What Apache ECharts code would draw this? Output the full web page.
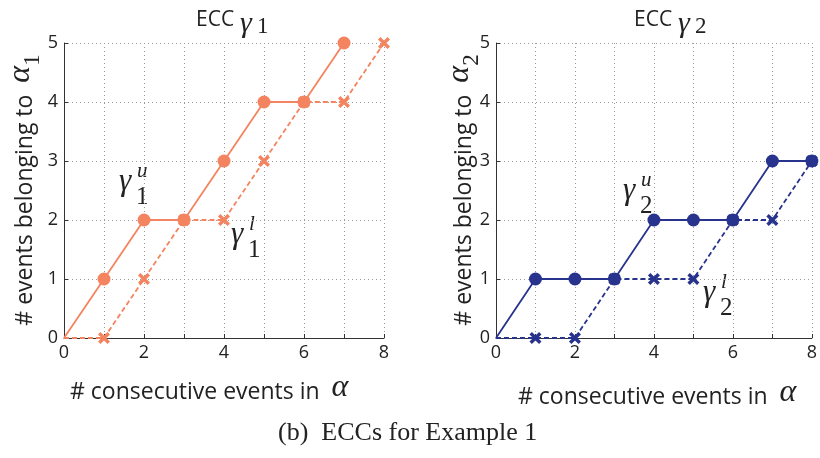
<!DOCTYPE html>
<html>
<head>
<meta charset="utf-8">
<script src="https://cdn.jsdelivr.net/npm/echarts@6/dist/echarts.min.js"></script>
<style>
  html, body { margin: 0; padding: 0; background: #fff; }
  #chart { width: 820px; height: 458px; }
</style>
</head>
<body>
<div id="chart"></div>
<script>
// Number of consecutive events (x axis, both panels)
const xValues = [0, 1, 2, 3, 4, 5, 6, 7, 8];
const yTicks = [0, 1, 2, 3, 4, 5];

// ECC gamma_1: upper and lower curves
const gamma1Upper = [0, 1, 2, 2, 3, 4, 4, 5];
const gamma1Lower = [0, 0, 1, 2, 2, 3, 4, 4, 5];

// ECC gamma_2: upper and lower curves
const gamma2Upper = [0, 1, 1, 1, 2, 2, 2, 3, 3];
const gamma2Lower = [0, 0, 0, 1, 1, 1, 2, 2, 3];

const ORANGE = '#F4845F';
const BLUE = '#27338C';
const SANS = 'Open Sans';
const SERIF = 'Liberation Serif';
const TEXT = '#222';
const CROSS = 'path://M2,0 L5,3 L8,0 L10,2 L7,5 L10,8 L8,10 L5,7 L2,10 L0,8 L3,5 L0,2 Z';

function pairs(values) {
  return values.map((v, i) => ({
    value: [xValues[i], v],
    symbol: i === 0 ? 'none' : undefined
  }));
}

function xAxis(gridIndex) {
  return {
    type: 'value', gridIndex, min: 0, max: 8, interval: 1,
    axisLine: { onZero: false, lineStyle: { color: '#333', width: 1 } },
    axisTick: { inside: true, length: 4, lineStyle: { color: '#333' } },
    axisLabel: {
      formatter: v => (v % 2 === 0 ? String(v) : ''),
      color: TEXT, fontSize: 18, fontFamily: SANS, margin: 6
    },
    splitLine: { show: true, lineStyle: { color: '#9a9a9a', type: [1, 3], width: 1 } }
  };
}

function yAxis(gridIndex) {
  return {
    type: 'value', gridIndex, min: yTicks[0], max: yTicks[yTicks.length - 1], interval: 1,
    axisLine: { show: true, onZero: false, lineStyle: { color: '#333', width: 1 } },
    axisTick: { show: true, inside: true, length: 4, lineStyle: { color: '#333' } },
    axisLabel: { color: TEXT, fontSize: 18, fontFamily: SANS, margin: 6 },
    splitLine: { show: true, lineStyle: { color: '#9a9a9a', type: [1, 3], width: 1 } }
  };
}

function curve(values, idx, color, dashed) {
  return {
    type: 'line', xAxisIndex: idx, yAxisIndex: idx,
    data: pairs(values),
    symbol: dashed ? CROSS : 'circle',
    symbolSize: dashed ? 12 : 13,
    showAllSymbol: true,
    clip: false,
    lineStyle: { color, width: 1.8, type: dashed ? [5, 3] : 'solid' },
    itemStyle: { color },
    animation: false,
    z: dashed ? 3 : 4
  };
}

function txt(left, top, text, size, family, italic) {
  return {
    type: 'text', left, top,
    style: {
      text, fill: TEXT, fontSize: size, fontFamily: family,
      fontStyle: italic ? 'italic' : 'normal'
    }
  };
}

// Greek annotation: gamma with subscript and superscript
function gammaLabel(x, y, sub, sup) {
  return [
    txt(x, y, 'γ', 31, SERIF, true),
    txt(x + 18, y - 5, sup, 21, SERIF, true),
    txt(x + 17, y + 19, sub, 25, SERIF, false)
  ];
}

function title(x, y, sub) {
  return [
    txt(x, y, 'ECC', 21, SANS, false),
    txt(x + 44, y - 1, 'γ', 30, SERIF, true),
    txt(x + 61, y + 5, sub, 23, SERIF, false)
  ];
}

function yName(cx, cy, sub) {
  return {
    type: 'text', x: cx, y: cy, rotation: Math.PI / 2,
    style: {
      text: '{a|# events belonging to  }{g|α}{s|' + sub + '}',
      align: 'center', verticalAlign: 'middle',
      rich: {
        a: { fontSize: 23, fontFamily: SANS, fill: TEXT, verticalAlign: 'bottom' },
        g: { fontSize: 32, fontFamily: SERIF, fontStyle: 'italic', fill: TEXT, verticalAlign: 'bottom' },
        s: { fontSize: 23, fontFamily: SERIF, fill: TEXT, verticalAlign: 'bottom', padding: [0, 0, -7, 0] }
      }
    }
  };
}

function xName(x, y) {
  return {
    type: 'text', left: x, top: y,
    style: {
      text: '{a|# consecutive events in  }{g|α}',
      rich: {
        a: { fontSize: 23, fontFamily: SANS, fill: TEXT, verticalAlign: 'bottom' },
        g: { fontSize: 32, fontFamily: SERIF, fontStyle: 'italic', fill: TEXT, verticalAlign: 'bottom' }
      }
    }
  };
}

const chart = echarts.init(document.getElementById('chart'), null, { renderer: 'canvas' });
chart.setOption({
  backgroundColor: '#fff',
  animation: false,
  grid: [
    { left: 64, top: 43, width: 320, height: 295 },
    { left: 496, top: 43, width: 320, height: 295 }
  ],
  xAxis: [xAxis(0), xAxis(1)],
  yAxis: [yAxis(0), yAxis(1)],
  series: [
    curve(gamma1Lower, 0, ORANGE, true),
    curve(gamma1Upper, 0, ORANGE, false),
    curve(gamma2Lower, 1, BLUE, true),
    curve(gamma2Upper, 1, BLUE, false)
  ],
  graphic: [
    ...title(196, 10, '1'),
    ...title(634, 10, '2'),
    ...gammaLabel(119, 166, '1', 'u'),
    ...gammaLabel(231, 219, '1', 'l'),
    ...gammaLabel(623, 175, '2', 'u'),
    ...gammaLabel(703, 277, '2', 'l'),
    yName(21, 190, '1'),
    yName(460, 190, '2'),
    xName(70, 372),
    xName(518, 377),
    txt(278, 420, '(b)  ECCs for Example 1', 26, SERIF, false)
  ]
});
</script>
</body>
</html>
